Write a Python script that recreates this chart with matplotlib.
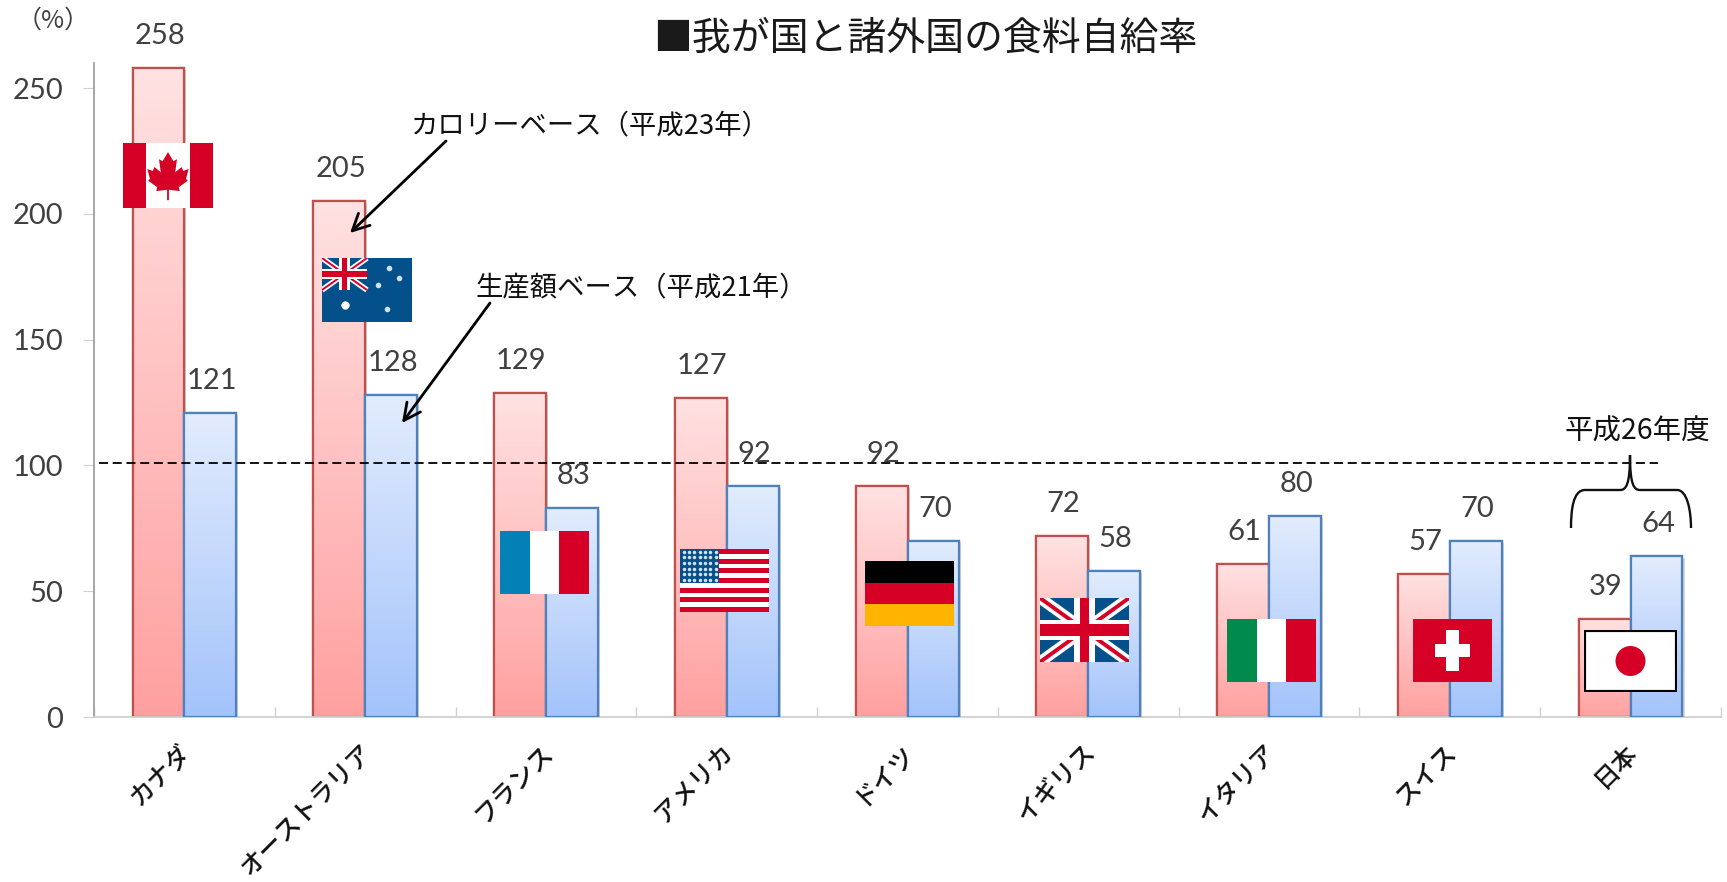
import numpy as np
import matplotlib
matplotlib.use('Agg')
import matplotlib.pyplot as plt
from matplotlib.colors import LinearSegmentedColormap
from matplotlib.patches import Rectangle, Circle, Polygon, PathPatch
from matplotlib.path import Path
from matplotlib.transforms import ScaledTranslation
import matplotlib.patheffects as pe

plt.rcParams['font.family'] = ['Noto Sans CJK JP', 'DejaVu Sans']

countries = ['カナダ', 'オーストラリア', 'フランス', 'アメリカ', 'ドイツ', 'イギリス', 'イタリア', 'スイス', '日本']
calorie = [258, 205, 129, 127, 92, 72, 61, 57, 39]
production = [121, 128, 83, 92, 70, 58, 80, 70, 64]
y_ticks = [0, 50, 100, 150, 200, 250]
reference_line = 101

W, H = 1727, 882
TEXT = '#404040'
RED, BLUE, WHITE, NAVY = '#d60027', '#03508a', '#ffffff', '#03508a'


def fx(x):
    return x / W


def fy(y):
    return 1 - y / H


fig = plt.figure(figsize=(W / 100, H / 100), dpi=100, facecolor='white')
ax = fig.add_axes([fx(94), fy(717), (1721 - 94) / W, (717 - 63) / H])

reds = LinearSegmentedColormap.from_list('reds', ['#ffa0a0', '#ffe2e2'])
blues = LinearSegmentedColormap.from_list('blues', ['#a3c3fb', '#e2ecfd'])
grad = np.linspace(1, 0, 256).reshape(-1, 1)
bar_w = 0.287
x = np.arange(len(countries))


def draw_bars(xs, vals, cmap, edge, z):
    bars = ax.bar(xs, vals, bar_w, facecolor='white', edgecolor=edge, linewidth=1.6, zorder=z)
    for b in bars:
        b.set_path_effects([pe.SimplePatchShadow(offset=(1.5, -1.5), alpha=0.22), pe.Normal()])
        ax.imshow(grad, cmap=cmap, aspect='auto', vmin=0, vmax=1, zorder=z + 0.1,
                  extent=(b.get_x(), b.get_x() + b.get_width(), 0, b.get_height()))
        ax.add_patch(Rectangle((b.get_x(), 0), b.get_width(), b.get_height(), fill=False,
                               edgecolor=edge, linewidth=1.6, zorder=z + 0.2))
    for b, v in zip(bars, vals):
        ax.annotate(str(v), (b.get_x() + b.get_width() / 2, v), xytext=(1, 23), textcoords='offset points',
                    ha='center', va='center', fontsize=21, color=TEXT, family='Lato', zorder=6)


draw_bars(x - bar_w / 2, calorie, reds, '#c0504d', 2)
draw_bars(x + bar_w / 2, production, blues, '#4f81bd', 3)

ax.plot([-0.47, 8.15], [reference_line, reference_line], color='black', lw=1.3, ls=(0, (5, 2.6)), zorder=5)

ax.set_xlim(-0.5, 8.5)
ax.set_ylim(0, 260)
for s in ['top', 'right']:
    ax.spines[s].set_visible(False)
ax.spines['left'].set_color('#a0a0a0')
ax.spines['left'].set_linewidth(1.3)
ax.spines['bottom'].set_color('#d0d0d0')
ax.spines['bottom'].set_linewidth(1.3)
ax.set_yticks(y_ticks)
ax.tick_params(axis='y', length=8, color='#d0d0d0', labelsize=21, labelcolor=TEXT, pad=14)
for lab in ax.get_yticklabels():
    lab.set_family('Lato')
ax.set_xticks(x)
ax.set_xticklabels(countries, rotation=45, ha='right', va='top', rotation_mode='anchor',
                   fontsize=18, color='#111111', fontweight='medium')
ax.tick_params(axis='x', length=0, pad=16)
for lab in ax.get_xticklabels():
    lab.set_transform(lab.get_transform() + ScaledTranslation(-6 / 100, 0, fig.dpi_scale_trans))
ax.set_xticks(np.arange(-0.5, 9), minor=True)
ax.tick_params(axis='x', which='minor', direction='in', length=7, color='#d0d0d0', width=1)

# texts
fig.text(fx(925), fy(39), '■我が国と諸外国の食料自給率', ha='center', va='center', fontsize=28, color='#1a1a1a')
fig.text(fx(53), fy(21), '（%）', ha='center', va='center', fontsize=18, color=TEXT)
fig.text(fx(411), fy(127), 'カロリーベース（平成23年）', ha='left', va='center', fontsize=19.7, color='#111111')
fig.text(fx(476), fy(289), '生産額ベース（平成21年）', ha='left', va='center', fontsize=19.7, color='#111111')
fig.text(fx(1637), fy(432), '平成26年度', ha='center', va='center', fontsize=20.5, color='#111111')

# arrows
for start, end in [((446, 141), (350, 233)), ((490, 303), (402, 423))]:
    ax.annotate('', xy=(fx(end[0]), fy(end[1])), xytext=(fx(start[0]), fy(start[1])),
                xycoords='figure fraction', textcoords='figure fraction', zorder=7,
                arrowprops=dict(arrowstyle='->', color='black', lw=2, mutation_scale=30,
                                shrinkA=0, shrinkB=0))

# brace over Japan
brace = [(1571, 528), (1571, 510), (1573, 490), (1585, 490), (1620, 490), (1626, 490), (1630, 485), (1630, 455),
         (1630, 485), (1634, 490), (1640, 490), (1677, 490), (1687, 490), (1691, 510), (1691, 528)]
codes = [Path.MOVETO, Path.CURVE4, Path.CURVE4, Path.CURVE4, Path.LINETO, Path.CURVE4, Path.CURVE4, Path.CURVE4,
         Path.CURVE4, Path.CURVE4, Path.CURVE4, Path.LINETO, Path.CURVE4, Path.CURVE4, Path.CURVE4]
fig.add_artist(PathPatch(Path([(fx(a), fy(b)) for a, b in brace], codes), fill=False, edgecolor='#111111',
                         lw=1.7, transform=fig.transFigure, zorder=8))


# flags, each in its own little axes measured in pixels
def flag_axes(x0, y0, x1, y1):
    f = fig.add_axes([fx(x0), fy(y1), (x1 - x0) / W, (y1 - y0) / H], zorder=10)
    f.set_xlim(0, 1)
    f.set_ylim(0, 1)
    f.axis('off')
    f.add_patch(Rectangle((0, 0), 1, 1, color=WHITE, lw=0))
    return f


def rect(f, x, y, w, h, c, z=1):
    f.add_patch(Rectangle((x, y), w, h, color=c, lw=0, zorder=z))


def union_jack(f, x0, y0, w, h):
    rect(f, x0, y0, w, h, NAVY)
    clip = Rectangle((x0, y0), w, h, transform=f.transData)
    for ya, yb in [(y0, y0 + h), (y0 + h, y0)]:
        f.plot([x0, x0 + w], [ya, yb], color=WHITE, lw=h * 8, solid_capstyle='butt', clip_path=clip, zorder=2)
        f.plot([x0, x0 + w], [ya, yb], color=RED, lw=h * 2.8, solid_capstyle='butt', clip_path=clip, zorder=2.1)
    rect(f, x0, y0 + h * 0.34, w, h * 0.32, WHITE, 3)
    rect(f, x0 + w * 0.38, y0, w * 0.24, h, WHITE, 3)
    rect(f, x0, y0 + h * 0.41, w, h * 0.18, RED, 4)
    rect(f, x0 + w * 0.45, y0, w * 0.1, h, RED, 4)


# Canada
f = flag_axes(123, 143, 213, 208)
rect(f, 0, 0, 0.26, 1, RED)
rect(f, 0.74, 0, 0.26, 1, RED)
leaf = [(0.5, 0.86), (0.56, 0.72), (0.6, 0.75), (0.58, 0.55), (0.65, 0.63), (0.67, 0.57), (0.73, 0.6), (0.7, 0.45),
        (0.72, 0.42), (0.62, 0.32), (0.63, 0.26), (0.51, 0.28), (0.51, 0.12), (0.49, 0.12), (0.49, 0.28), (0.37, 0.26),
        (0.38, 0.32), (0.28, 0.42), (0.3, 0.45), (0.27, 0.6), (0.33, 0.57), (0.35, 0.63), (0.42, 0.55), (0.4, 0.75),
        (0.44, 0.72)]
f.add_patch(Polygon(leaf, color=RED, lw=0))

# Australia
f = flag_axes(322, 258, 412, 322)
rect(f, 0, 0, 1, 1, NAVY)
union_jack(f, 0, 0.5, 0.5, 0.5)
f.plot([0.25], [0.26], 'o', color=WHITE, ms=5, zorder=5)
f.plot([0.74, 0.85, 0.62, 0.72], [0.85, 0.68, 0.58, 0.2], 'o', color='#cfe0ee', ms=3, lw=0, zorder=5)

# France
f = flag_axes(500, 531, 589, 594)
rect(f, 0, 0, 0.34, 1, '#0380b5')
rect(f, 0.66, 0, 0.34, 1, RED)

# USA
f = flag_axes(680, 549, 769, 612)
for i in range(13):
    if i % 2 == 0:
        rect(f, 0, i / 13, 1, 1 / 13, RED)
rect(f, 0, 6 / 13, 0.44, 7 / 13, NAVY, 2)
sx, sy = np.meshgrid(np.linspace(0.04, 0.4, 7), np.linspace(0.51, 0.96, 6))
f.plot(sx.ravel(), sy.ravel(), 'o', color='#d5e0ea', ms=1.5, zorder=3)

# Germany
f = flag_axes(865, 561, 954, 626)
rect(f, 0, 2 / 3, 1, 1 / 3, 'black')
rect(f, 0, 1 / 3, 1, 1 / 3, RED)
rect(f, 0, 0, 1, 1 / 3, '#ffb400')

# UK
f = flag_axes(1040, 598, 1129, 662)
union_jack(f, 0, 0, 1, 1)

# Italy
f = flag_axes(1227, 619, 1316, 682)
rect(f, 0, 0, 0.34, 1, '#008a4b')
rect(f, 0.66, 0, 0.34, 1, RED)

# Switzerland
f = flag_axes(1413, 619, 1492, 682)
rect(f, 0, 0, 1, 1, RED)
rect(f, 0.415, 0.17, 0.17, 0.66, WHITE, 2)
rect(f, 0.28, 0.39, 0.44, 0.22, WHITE, 2)

# Japan
f = flag_axes(1584, 630, 1677, 692)
f.set_xlim(0, 93)
f.set_ylim(0, 62)
f.add_patch(Rectangle((0, 0), 93, 62, facecolor=WHITE, edgecolor='black', lw=3, clip_on=True))
f.add_patch(Circle((46.5, 31), 15, color=RED, lw=0))

fig.savefig('out.png', dpi=100)
